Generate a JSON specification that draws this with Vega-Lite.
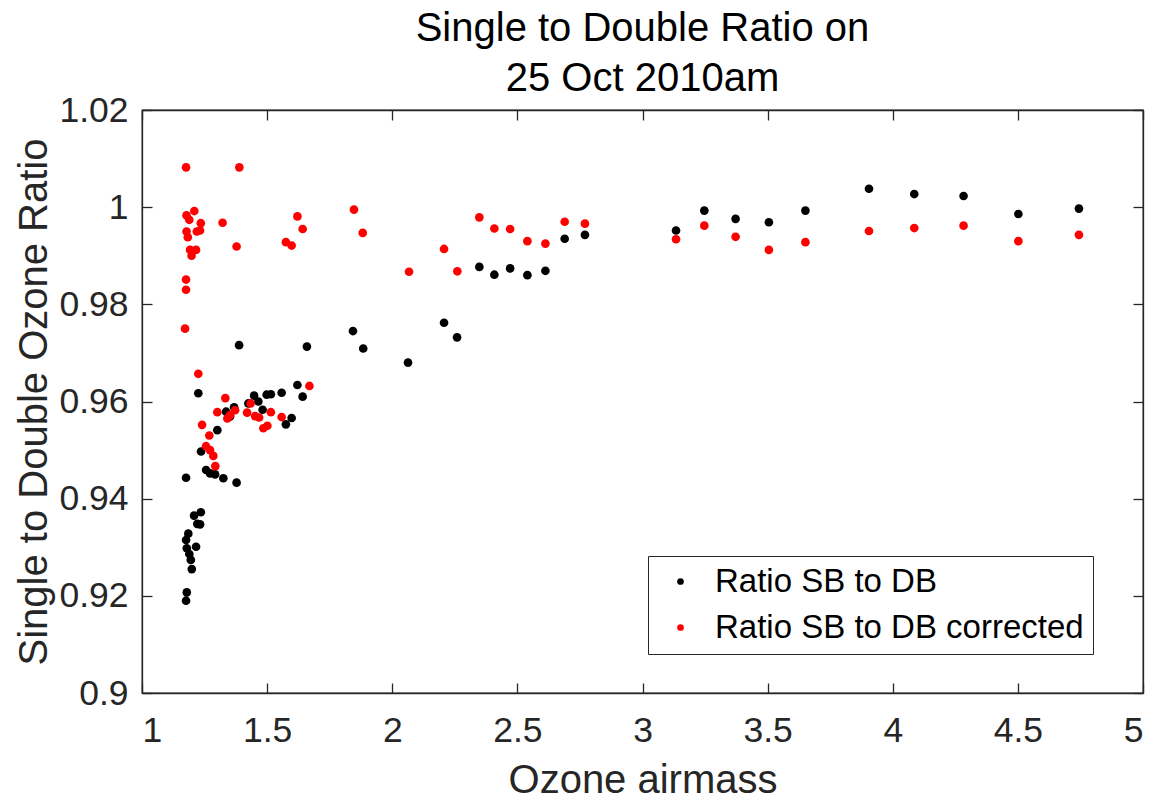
{
  "$schema": "https://vega.github.io/schema/vega-lite/v6.json",
  "autosize": {"type": "none"},
  "width": 1001,
  "height": 583,
  "padding": {"left": 142, "top": 110, "right": 16, "bottom": 109},
  "background": "white",
  "config": {
    "font": "Liberation Sans",
    "view": {"stroke": "#262626", "strokeWidth": 1.3}
  },
  "title": {
    "text": ["Single to Double Ratio on", "25 Oct 2010am"],
    "fontSize": 40,
    "fontWeight": "normal",
    "color": "#000000",
    "font": "Liberation Sans",
    "lineHeight": 50,
    "offset": -6,
    "anchor": "middle"
  },
  "data": {
    "values": [
      {"airmass": 1.176, "ratio": 0.9443, "series": "Ratio SB to DB"},
      {"airmass": 1.225, "ratio": 0.9617, "series": "Ratio SB to DB"},
      {"airmass": 1.301, "ratio": 0.9541, "series": "Ratio SB to DB"},
      {"airmass": 1.368, "ratio": 0.9588, "series": "Ratio SB to DB"},
      {"airmass": 1.336, "ratio": 0.9579, "series": "Ratio SB to DB"},
      {"airmass": 1.352, "ratio": 0.9569, "series": "Ratio SB to DB"},
      {"airmass": 1.425, "ratio": 0.9596, "series": "Ratio SB to DB"},
      {"airmass": 1.448, "ratio": 0.9612, "series": "Ratio SB to DB"},
      {"airmass": 1.465, "ratio": 0.96, "series": "Ratio SB to DB"},
      {"airmass": 1.482, "ratio": 0.9583, "series": "Ratio SB to DB"},
      {"airmass": 1.498, "ratio": 0.9614, "series": "Ratio SB to DB"},
      {"airmass": 1.515, "ratio": 0.9615, "series": "Ratio SB to DB"},
      {"airmass": 1.558, "ratio": 0.9618, "series": "Ratio SB to DB"},
      {"airmass": 1.621, "ratio": 0.9634, "series": "Ratio SB to DB"},
      {"airmass": 1.642, "ratio": 0.961, "series": "Ratio SB to DB"},
      {"airmass": 1.598, "ratio": 0.9566, "series": "Ratio SB to DB"},
      {"airmass": 1.575, "ratio": 0.9553, "series": "Ratio SB to DB"},
      {"airmass": 1.236, "ratio": 0.9497, "series": "Ratio SB to DB"},
      {"airmass": 1.256, "ratio": 0.9459, "series": "Ratio SB to DB"},
      {"airmass": 1.272, "ratio": 0.9452, "series": "Ratio SB to DB"},
      {"airmass": 1.292, "ratio": 0.945, "series": "Ratio SB to DB"},
      {"airmass": 1.325, "ratio": 0.9442, "series": "Ratio SB to DB"},
      {"airmass": 1.378, "ratio": 0.9433, "series": "Ratio SB to DB"},
      {"airmass": 1.235, "ratio": 0.9372, "series": "Ratio SB to DB"},
      {"airmass": 1.208, "ratio": 0.9365, "series": "Ratio SB to DB"},
      {"airmass": 1.221, "ratio": 0.9348, "series": "Ratio SB to DB"},
      {"airmass": 1.232, "ratio": 0.9347, "series": "Ratio SB to DB"},
      {"airmass": 1.185, "ratio": 0.9328, "series": "Ratio SB to DB"},
      {"airmass": 1.176, "ratio": 0.9315, "series": "Ratio SB to DB"},
      {"airmass": 1.216, "ratio": 0.9301, "series": "Ratio SB to DB"},
      {"airmass": 1.179, "ratio": 0.9298, "series": "Ratio SB to DB"},
      {"airmass": 1.189, "ratio": 0.9286, "series": "Ratio SB to DB"},
      {"airmass": 1.195, "ratio": 0.9274, "series": "Ratio SB to DB"},
      {"airmass": 1.199, "ratio": 0.9255, "series": "Ratio SB to DB"},
      {"airmass": 1.179, "ratio": 0.9207, "series": "Ratio SB to DB"},
      {"airmass": 1.176, "ratio": 0.919, "series": "Ratio SB to DB"},
      {"airmass": 1.388, "ratio": 0.9716, "series": "Ratio SB to DB"},
      {"airmass": 1.659, "ratio": 0.9713, "series": "Ratio SB to DB"},
      {"airmass": 1.843, "ratio": 0.9745, "series": "Ratio SB to DB"},
      {"airmass": 1.884, "ratio": 0.9709, "series": "Ratio SB to DB"},
      {"airmass": 2.063, "ratio": 0.968, "series": "Ratio SB to DB"},
      {"airmass": 2.207, "ratio": 0.9762, "series": "Ratio SB to DB"},
      {"airmass": 2.259, "ratio": 0.9732, "series": "Ratio SB to DB"},
      {"airmass": 2.348, "ratio": 0.9877, "series": "Ratio SB to DB"},
      {"airmass": 2.408, "ratio": 0.9861, "series": "Ratio SB to DB"},
      {"airmass": 2.471, "ratio": 0.9874, "series": "Ratio SB to DB"},
      {"airmass": 2.54, "ratio": 0.986, "series": "Ratio SB to DB"},
      {"airmass": 2.612, "ratio": 0.9869, "series": "Ratio SB to DB"},
      {"airmass": 2.689, "ratio": 0.9935, "series": "Ratio SB to DB"},
      {"airmass": 2.77, "ratio": 0.9943, "series": "Ratio SB to DB"},
      {"airmass": 3.134, "ratio": 0.9952, "series": "Ratio SB to DB"},
      {"airmass": 3.247, "ratio": 0.9993, "series": "Ratio SB to DB"},
      {"airmass": 3.372, "ratio": 0.9976, "series": "Ratio SB to DB"},
      {"airmass": 3.505, "ratio": 0.9969, "series": "Ratio SB to DB"},
      {"airmass": 3.651, "ratio": 0.9993, "series": "Ratio SB to DB"},
      {"airmass": 3.905, "ratio": 1.0038, "series": "Ratio SB to DB"},
      {"airmass": 4.086, "ratio": 1.0027, "series": "Ratio SB to DB"},
      {"airmass": 4.283, "ratio": 1.0023, "series": "Ratio SB to DB"},
      {"airmass": 4.502, "ratio": 0.9986, "series": "Ratio SB to DB"},
      {"airmass": 4.744, "ratio": 0.9997, "series": "Ratio SB to DB"},
      {"airmass": 1.176, "ratio": 1.0082, "series": "Ratio SB to DB corrected"},
      {"airmass": 1.389, "ratio": 1.0082, "series": "Ratio SB to DB corrected"},
      {"airmass": 1.209, "ratio": 0.9992, "series": "Ratio SB to DB corrected"},
      {"airmass": 1.178, "ratio": 0.9983, "series": "Ratio SB to DB corrected"},
      {"airmass": 1.189, "ratio": 0.9974, "series": "Ratio SB to DB corrected"},
      {"airmass": 1.235, "ratio": 0.9967, "series": "Ratio SB to DB corrected"},
      {"airmass": 1.322, "ratio": 0.9968, "series": "Ratio SB to DB corrected"},
      {"airmass": 1.178, "ratio": 0.995, "series": "Ratio SB to DB corrected"},
      {"airmass": 1.183, "ratio": 0.9938, "series": "Ratio SB to DB corrected"},
      {"airmass": 1.219, "ratio": 0.995, "series": "Ratio SB to DB corrected"},
      {"airmass": 1.232, "ratio": 0.9952, "series": "Ratio SB to DB corrected"},
      {"airmass": 1.378, "ratio": 0.9919, "series": "Ratio SB to DB corrected"},
      {"airmass": 1.192, "ratio": 0.9912, "series": "Ratio SB to DB corrected"},
      {"airmass": 1.216, "ratio": 0.9912, "series": "Ratio SB to DB corrected"},
      {"airmass": 1.198, "ratio": 0.99, "series": "Ratio SB to DB corrected"},
      {"airmass": 1.621, "ratio": 0.9981, "series": "Ratio SB to DB corrected"},
      {"airmass": 1.642, "ratio": 0.9955, "series": "Ratio SB to DB corrected"},
      {"airmass": 1.575, "ratio": 0.9928, "series": "Ratio SB to DB corrected"},
      {"airmass": 1.598, "ratio": 0.9921, "series": "Ratio SB to DB corrected"},
      {"airmass": 1.176, "ratio": 0.9851, "series": "Ratio SB to DB corrected"},
      {"airmass": 1.176, "ratio": 0.983, "series": "Ratio SB to DB corrected"},
      {"airmass": 1.172, "ratio": 0.975, "series": "Ratio SB to DB corrected"},
      {"airmass": 1.225, "ratio": 0.9657, "series": "Ratio SB to DB corrected"},
      {"airmass": 1.333, "ratio": 0.9607, "series": "Ratio SB to DB corrected"},
      {"airmass": 1.301, "ratio": 0.9578, "series": "Ratio SB to DB corrected"},
      {"airmass": 1.352, "ratio": 0.9572, "series": "Ratio SB to DB corrected"},
      {"airmass": 1.372, "ratio": 0.9582, "series": "Ratio SB to DB corrected"},
      {"airmass": 1.341, "ratio": 0.9565, "series": "Ratio SB to DB corrected"},
      {"airmass": 1.434, "ratio": 0.9596, "series": "Ratio SB to DB corrected"},
      {"airmass": 1.42, "ratio": 0.9577, "series": "Ratio SB to DB corrected"},
      {"airmass": 1.452, "ratio": 0.957, "series": "Ratio SB to DB corrected"},
      {"airmass": 1.468, "ratio": 0.9567, "series": "Ratio SB to DB corrected"},
      {"airmass": 1.515, "ratio": 0.9578, "series": "Ratio SB to DB corrected"},
      {"airmass": 1.558, "ratio": 0.9568, "series": "Ratio SB to DB corrected"},
      {"airmass": 1.485, "ratio": 0.9545, "series": "Ratio SB to DB corrected"},
      {"airmass": 1.501, "ratio": 0.955, "series": "Ratio SB to DB corrected"},
      {"airmass": 1.669, "ratio": 0.9632, "series": "Ratio SB to DB corrected"},
      {"airmass": 1.24, "ratio": 0.9552, "series": "Ratio SB to DB corrected"},
      {"airmass": 1.269, "ratio": 0.953, "series": "Ratio SB to DB corrected"},
      {"airmass": 1.256, "ratio": 0.9508, "series": "Ratio SB to DB corrected"},
      {"airmass": 1.272, "ratio": 0.95, "series": "Ratio SB to DB corrected"},
      {"airmass": 1.285, "ratio": 0.9488, "series": "Ratio SB to DB corrected"},
      {"airmass": 1.293, "ratio": 0.9467, "series": "Ratio SB to DB corrected"},
      {"airmass": 1.847, "ratio": 0.9995, "series": "Ratio SB to DB corrected"},
      {"airmass": 1.882, "ratio": 0.9947, "series": "Ratio SB to DB corrected"},
      {"airmass": 2.067, "ratio": 0.9867, "series": "Ratio SB to DB corrected"},
      {"airmass": 2.207, "ratio": 0.9914, "series": "Ratio SB to DB corrected"},
      {"airmass": 2.26, "ratio": 0.9868, "series": "Ratio SB to DB corrected"},
      {"airmass": 2.348, "ratio": 0.9979, "series": "Ratio SB to DB corrected"},
      {"airmass": 2.408, "ratio": 0.9956, "series": "Ratio SB to DB corrected"},
      {"airmass": 2.471, "ratio": 0.9955, "series": "Ratio SB to DB corrected"},
      {"airmass": 2.54, "ratio": 0.993, "series": "Ratio SB to DB corrected"},
      {"airmass": 2.612, "ratio": 0.9925, "series": "Ratio SB to DB corrected"},
      {"airmass": 2.689, "ratio": 0.997, "series": "Ratio SB to DB corrected"},
      {"airmass": 2.77, "ratio": 0.9966, "series": "Ratio SB to DB corrected"},
      {"airmass": 3.134, "ratio": 0.9934, "series": "Ratio SB to DB corrected"},
      {"airmass": 3.247, "ratio": 0.9962, "series": "Ratio SB to DB corrected"},
      {"airmass": 3.372, "ratio": 0.9939, "series": "Ratio SB to DB corrected"},
      {"airmass": 3.505, "ratio": 0.9912, "series": "Ratio SB to DB corrected"},
      {"airmass": 3.651, "ratio": 0.9928, "series": "Ratio SB to DB corrected"},
      {"airmass": 3.905, "ratio": 0.9951, "series": "Ratio SB to DB corrected"},
      {"airmass": 4.086, "ratio": 0.9957, "series": "Ratio SB to DB corrected"},
      {"airmass": 4.283, "ratio": 0.9962, "series": "Ratio SB to DB corrected"},
      {"airmass": 4.502, "ratio": 0.993, "series": "Ratio SB to DB corrected"},
      {"airmass": 4.744, "ratio": 0.9943, "series": "Ratio SB to DB corrected"}
    ]
  },
  "layer": [
    {
      "mark": {"type": "point", "filled": true, "opacity": 1, "size": 75},
      "encoding": {
        "x": {
          "field": "airmass", "type": "quantitative",
          "scale": {"domain": [1, 5], "nice": false, "zero": false},
          "axis": {
            "title": "Ozone airmass", "titleFontSize": 40, "titleFontWeight": "normal",
            "titleColor": "#262626", "titlePadding": 12,
            "values": [1, 1.5, 2, 2.5, 3, 3.5, 4, 4.5, 5],
            "labelFontSize": 35.5, "labelColor": "#262626", "labelPadding": 30,
            "labelExpr": "datum.value",
            "grid": false, "domainColor": "#262626", "domainWidth": 1.3,
            "tickColor": "#262626", "tickSize": -10, "tickWidth": 1.3
          }
        },
        "y": {
          "field": "ratio", "type": "quantitative",
          "scale": {"domain": [0.9, 1.02], "nice": false, "zero": false},
          "axis": {
            "title": "Single to Double Ozone Ratio", "titleFontSize": 40, "titleFontWeight": "normal",
            "titleColor": "#262626", "titlePadding": 4,
            "values": [0.9, 0.92, 0.94, 0.96, 0.98, 1, 1.02],
            "labelFontSize": 35.5, "labelColor": "#262626", "labelPadding": 24,
            "labelExpr": "datum.value",
            "grid": false, "domainColor": "#262626", "domainWidth": 1.3,
            "tickColor": "#262626", "tickSize": -10, "tickWidth": 1.3
          }
        },
        "color": {
          "field": "series", "type": "nominal",
          "scale": {"domain": ["Ratio SB to DB", "Ratio SB to DB corrected"], "range": ["#000000", "#ff0000"]},
          "legend": {
            "title": null, "orient": "none", "legendX": 506, "legendY": 446,
            "labelFontSize": 33, "labelColor": "#000000", "labelLimit": 0,
            "symbolType": "circle",
            "symbolSize": 45, "symbolStrokeWidth": 0, "rowPadding": 12,
            "strokeColor": "#262626", "padding": 9, "fillColor": "white",
            "labelOffset": 18, "symbolOffset": 7
          }
        }
      }
    },
    {
      "mark": {"type": "point", "opacity": 0, "size": 1},
      "encoding": {
        "x": {
          "field": "airmass", "type": "quantitative",
          "scale": {"domain": [1, 5], "nice": false, "zero": false},
          "axis": {
            "orient": "top", "title": null, "labels": false,
            "values": [1, 1.5, 2, 2.5, 3, 3.5, 4, 4.5, 5],
            "grid": false, "domainColor": "#262626", "domainWidth": 1.3,
            "tickColor": "#262626", "tickSize": -10, "tickWidth": 1.3
          }
        },
        "y": {
          "field": "ratio", "type": "quantitative",
          "scale": {"domain": [0.9, 1.02], "nice": false, "zero": false},
          "axis": {
            "orient": "right", "title": null, "labels": false,
            "values": [0.9, 0.92, 0.94, 0.96, 0.98, 1, 1.02],
            "grid": false, "domainColor": "#262626", "domainWidth": 1.3,
            "tickColor": "#262626", "tickSize": -10, "tickWidth": 1.3
          }
        }
      }
    }
  ],
  "resolve": {"axis": {"x": "independent", "y": "independent"}}
}
